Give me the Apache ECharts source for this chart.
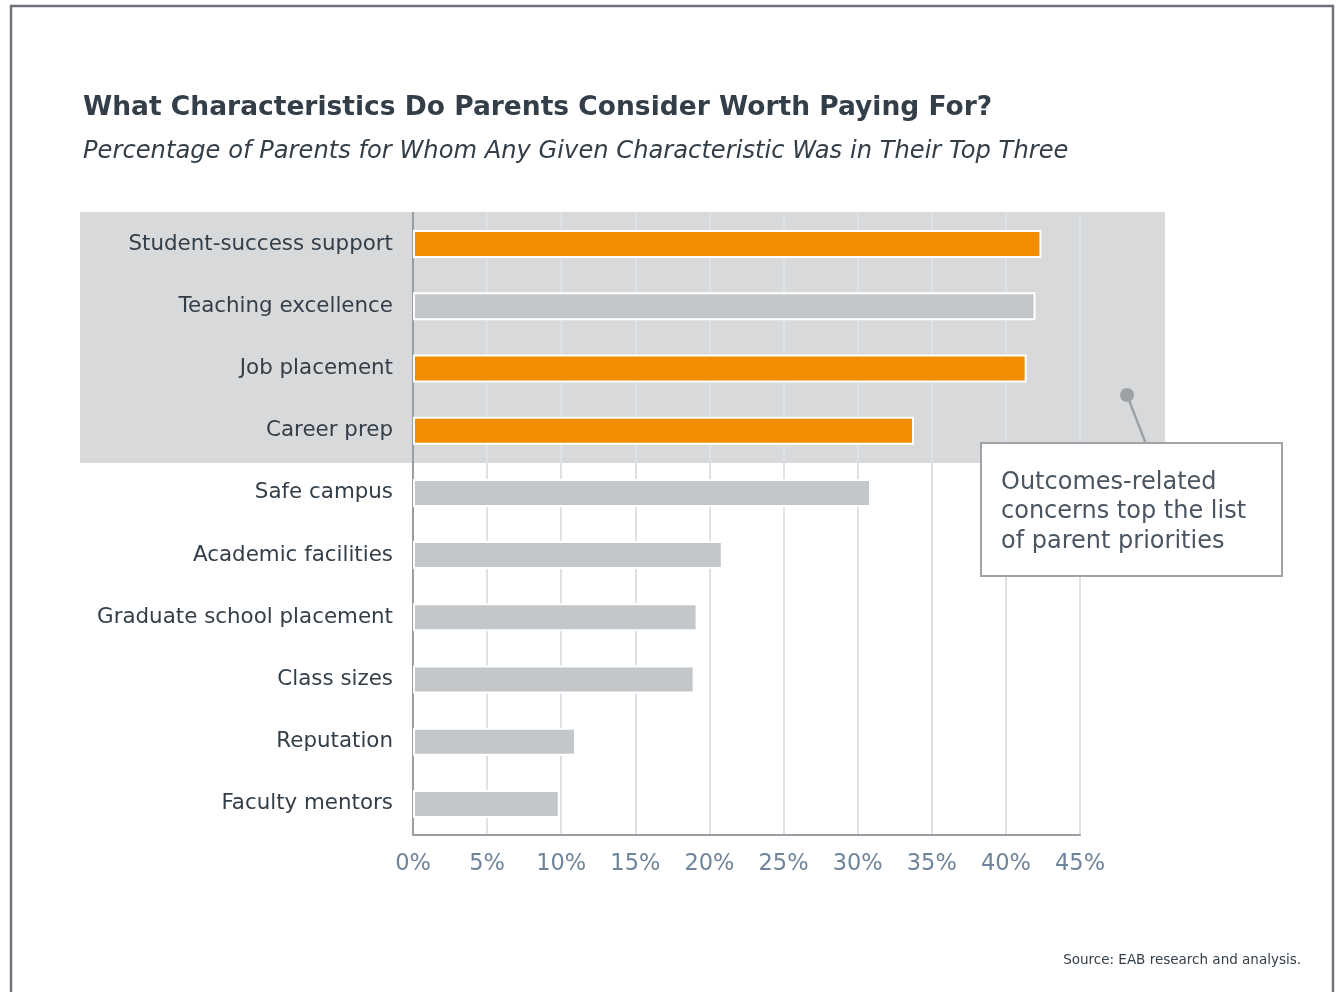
<!DOCTYPE html>
<html>
<head>
<meta charset="utf-8">
<script src="https://cdn.jsdelivr.net/npm/echarts@6/dist/echarts.min.js"></script>
<style>
html,body{margin:0;padding:0;background:#fff;}
#c{width:1337px;height:992px;}
</style>
</head>
<body>
<div id="c"></div>
<script>
const categories = ["Student-success support","Teaching excellence","Job placement","Career prep","Safe campus","Academic facilities","Graduate school placement","Class sizes","Reputation","Faculty mentors"];
const values = [42.4, 42.0, 41.4, 33.8, 30.9, 20.9, 19.2, 19.0, 11.0, 9.9];
const highlighted = [true, false, true, true, false, false, false, false, false, false];
const tickValues = [0,5,10,15,20,25,30,35,40,45];

const FONT = "DejaVu Sans, Verdana, sans-serif";
const chart = echarts.init(document.getElementById('c'), null, {renderer:'canvas'});

chart.setOption({
  backgroundColor: '#ffffff',
  animation: false,
  title: {
    text: 'What Characteristics Do Parents Consider Worth Paying For?',
    subtext: 'Percentage of Parents for Whom Any Given Characteristic Was in Their Top Three',
    left: 78, top: 90,
    itemGap: 18,
    textStyle: {fontFamily: FONT, fontSize: 26.5, fontWeight: 'bold', color: '#333e48'},
    subtextStyle: {fontFamily: FONT, fontSize: 24.2, fontStyle: 'italic', color: '#333e48'}
  },
  grid: {left: 413, right: 257, top: 213, bottom: 157, containLabel: false},
  xAxis: {
    type: 'value', min: 0, max: 45, interval: 5,
    axisLine: {show: true, lineStyle: {color: '#9a9ea4', width: 2}},
    axisTick: {show: false},
    splitLine: {show: true, lineStyle: {color: '#dee2e7', width: 2}},
    axisLabel: {fontFamily: FONT, fontSize: 22.5, color: '#6f849a', margin: 18,
      formatter: v => tickValues.includes(v) ? v + '%' : ''}
  },
  yAxis: {
    type: 'category', data: categories, inverse: true,
    axisLine: {show: true, lineStyle: {color: '#9a9ea4', width: 2}},
    axisTick: {show: false},
    axisLabel: {fontFamily: FONT, fontSize: 21.4, color: '#333e48', margin: 20, padding: [2, 0, 0, 0]}
  },
  series: [{
    type: 'bar',
    data: values.map((v, i) => ({value: v, itemStyle: {color: highlighted[i] ? '#f28c00' : '#c4c7ca'}})),
    barWidth: 28,
    itemStyle: {borderColor: '#ffffff', borderWidth: 2},
    z: 3
  }],
  graphic: [
    {type: 'rect', z: -10, silent: true, shape: {x: 11, y: 6, width: 1322, height: 1000},
      style: {fill: 'none', stroke: '#6d7379', lineWidth: 2.5}},
    {type: 'rect', z: -5, silent: true, shape: {x: 80, y: 212, width: 1085, height: 251},
      style: {fill: '#d7d9db'}},
    {type: 'line', z: 50, silent: true, shape: {x1: 1127, y1: 395, x2: 1146, y2: 444},
      style: {stroke: '#9ea2a7', lineWidth: 2.5}},
    {type: 'circle', z: 50, silent: true, shape: {cx: 1127, cy: 395, r: 7},
      style: {fill: '#9ea2a7'}},
    {type: 'rect', z: 60, silent: true, shape: {x: 981, y: 443, width: 301, height: 133},
      style: {fill: '#ffffff', stroke: '#a0a4a8', lineWidth: 2}},
    {type: 'text', z: 61, silent: true, left: 1001, top: 468,
      style: {text: 'Outcomes-related\nconcerns top the list\nof parent priorities',
        font: '24px ' + FONT, fill: '#4a5561', lineHeight: 29.5}},
    {type: 'text', z: 61, silent: true, right: 36, top: 953,
      style: {text: 'Source: EAB research and analysis.', font: '13.5px ' + FONT, fill: '#333e48'}}
  ]
});
</script>
</body>
</html>
